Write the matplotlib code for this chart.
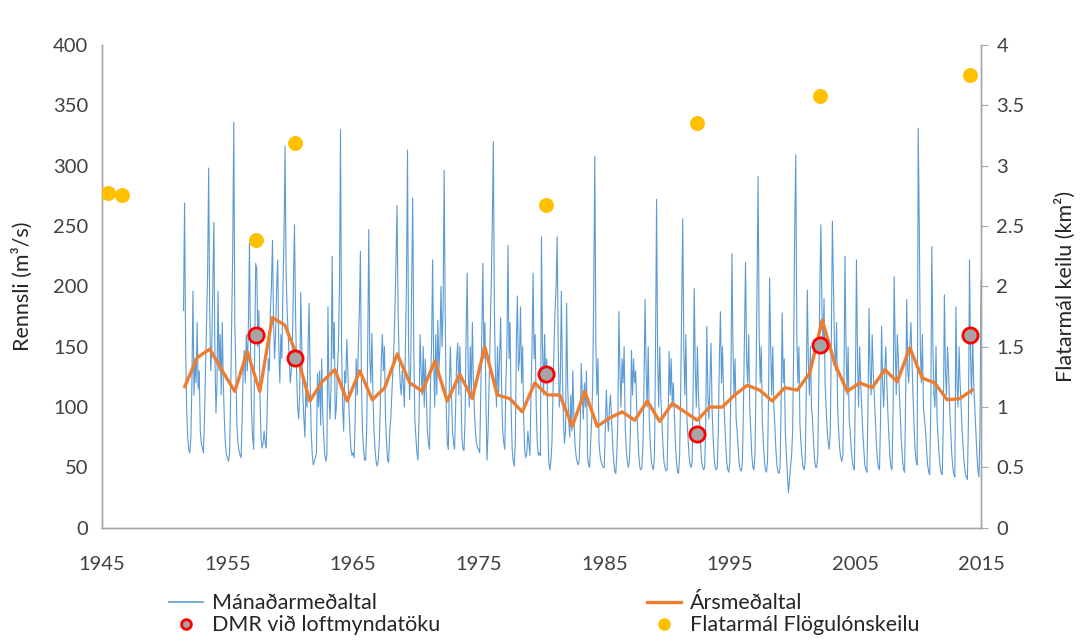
import numpy as np
import matplotlib
matplotlib.use("Agg")
import matplotlib.pyplot as plt
from matplotlib.lines import Line2D

plt.rcParams['font.family'] = ['Lato', 'DejaVu Sans']

# Mánaðarmeðaltal (m3/s), frá júlí 1951, lesið af myndinni
flow_1950s = [180, 269, 150, 98, 75, 64,
              62, 75, 120, 196, 110, 140, 120, 170, 115, 130, 80, 70,
              66, 62, 90, 130, 170, 210, 298, 180, 130, 150, 200, 253,
              140, 95, 120, 196, 130, 160, 110, 170, 120, 90, 70, 60,
              58, 55, 62, 110, 170, 230, 336, 170, 130, 85, 70, 64,
              60, 58, 90, 130, 147, 120, 160, 130, 170, 236, 150, 95,
              75, 65, 150, 219, 214, 150, 180, 110, 75, 66, 70, 80,
              70, 66, 100, 140, 130, 180, 200, 238, 170, 140, 160, 200,
              222, 150, 120, 160, 140, 200, 240, 316, 210, 180, 160, 140]
flow_1960s = [120, 130, 150, 200, 251, 180, 130, 100, 90, 110, 195, 150,
              110, 90, 75, 120, 100, 150, 186, 120, 80, 60, 52, 55,
              58, 62, 128, 100, 130, 85, 140, 95, 75, 60, 55, 60,
              183, 110, 90, 120, 225, 140, 170, 90, 100, 130, 150, 200,
              330, 150, 100, 80, 130, 120, 156, 130, 100, 80, 65, 60,
              62, 58, 90, 140, 110, 150, 180, 229, 120, 80, 65, 56,
              56, 80, 150, 247, 140, 120, 161, 110, 80, 65, 55, 51,
              55, 70, 100, 140, 160, 130, 150, 90, 70, 56, 54, 80,
              90, 110, 130, 150, 180, 220, 267, 180, 140, 120, 110, 130,
              120, 100, 150, 200, 313, 150, 106, 130, 200, 273, 150, 90]
flow_1970s = [75, 62, 56, 90, 160, 130, 110, 150, 100, 140, 110, 80,
              70, 65, 120, 150, 222, 140, 100, 160, 110, 172, 130, 150,
              200, 150, 180, 296, 180, 100, 70, 65, 120, 150, 110, 80,
              70, 65, 100, 140, 153, 110, 150, 120, 75, 65, 64, 90,
              160, 211, 130, 100, 150, 110, 170, 120, 95, 78, 70, 66,
              65, 62, 110, 160, 219, 140, 170, 100, 56, 80, 120, 160,
              200, 250, 320, 180, 130, 100, 150, 110, 140, 174, 110, 80,
              70, 65, 120, 150, 234, 140, 170, 100, 65, 55, 51, 70,
              150, 192, 130, 140, 183, 120, 150, 90, 64, 58, 62, 80,
              70, 60, 110, 150, 211, 140, 160, 100, 70, 60, 62, 60]
flow_1980s = [241, 150, 110, 160, 120, 140, 90, 55, 48, 55, 70, 110,
              150, 180, 200, 241, 150, 100, 120, 196, 130, 90, 70, 80,
              186, 120, 90, 75, 110, 80, 130, 90, 70, 60, 55, 52,
              55, 80, 136, 110, 90, 120, 100, 130, 60, 52, 50, 70,
              90, 120, 200, 308, 150, 110, 140, 70, 60, 55, 52, 50,
              50, 80, 114, 90, 80, 100, 110, 90, 70, 55, 47, 45,
              60, 90, 179, 130, 100, 140, 120, 150, 85, 65, 55, 50,
              55, 80, 147, 110, 140, 120, 130, 100, 80, 60, 50, 48,
              50, 70, 120, 189, 130, 100, 150, 90, 70, 55, 50, 48,
              60, 150, 272, 140, 100, 150, 110, 90, 70, 55, 50, 47]
flow_1990s = [48, 90, 146, 110, 140, 100, 120, 95, 70, 55, 46, 45,
              60, 110, 180, 256, 150, 110, 160, 90, 75, 60, 52, 50,
              55, 120, 198, 130, 100, 150, 110, 90, 70, 55, 50, 48,
              50, 90, 167, 110, 90, 120, 153, 100, 75, 58, 50, 48,
              50, 80, 140, 179, 120, 150, 110, 90, 70, 55, 48, 46,
              55, 120, 227, 150, 110, 140, 90, 80, 65, 52, 48, 47,
              55, 100, 160, 220, 140, 120, 160, 100, 80, 60, 50, 48,
              60, 120, 200, 291, 160, 120, 150, 90, 70, 56, 48, 46,
              55, 110, 207, 150, 110, 150, 100, 85, 65, 52, 46, 45,
              50, 100, 178, 120, 140, 80, 60, 45, 29, 40, 50, 60]
flow_2000s = [80, 150, 250, 309, 160, 120, 150, 85, 70, 58, 50, 48,
              55, 110, 197, 140, 110, 150, 100, 90, 70, 56, 50, 50,
              60, 120, 200, 251, 180, 150, 190, 120, 100, 80, 70, 65,
              80, 160, 254, 200, 150, 130, 170, 100, 80, 65, 58, 55,
              60, 120, 225, 150, 110, 150, 90, 80, 65, 55, 50, 48,
              120, 222, 140, 100, 150, 120, 100, 80, 65, 52, 48, 46,
              100, 182, 130, 110, 160, 130, 110, 90, 70, 56, 50, 48,
              90, 167, 120, 100, 130, 150, 120, 95, 75, 58, 50, 48,
              100, 208, 150, 110, 160, 140, 110, 90, 70, 56, 48, 46,
              110, 189, 130, 120, 150, 170, 140, 110, 85, 65, 55, 52]
flow_2010s = [331, 250, 150, 120, 160, 100, 90, 80, 65, 52, 46, 44,
              100, 233, 150, 110, 100, 150, 90, 75, 60, 50, 45, 44,
              90, 193, 130, 110, 150, 130, 100, 80, 62, 50, 44, 42,
              183, 120, 100, 150, 120, 100, 80, 65, 52, 45, 42, 40,
              90, 222, 140, 110, 160, 120, 100, 80, 62, 48, 42, 80,
              205, 150]

# Ársmeðaltal 1951-2014
annual_years = np.arange(1951, 2015)
annual_flow = [117, 141, 148, 130, 113, 146, 113, 174, 168, 142,
               105, 121, 131, 105, 130, 106, 116, 144, 120, 113,
               138, 105, 127, 107, 150, 110, 107, 96, 120, 110,
               110, 84, 113, 84, 91, 96, 89, 105, 88, 103,
               96, 89, 100, 100, 110, 118, 114, 105, 116, 114,
               128, 172, 136, 113, 120, 116, 131, 121, 149, 124,
               120, 106, 107, 114]

# DMR við loftmyndatöku
dmr_year = [1957.3, 1960.4, 1980.4, 1992.4, 2002.2, 2014.1]
dmr_flow = [160, 141, 127, 78, 151, 160]

# Flatarmál Flögulónskeilu (km2)
area_year = [1945.5, 1946.6, 1957.3, 1960.4, 1980.4, 1992.4, 2002.2, 2014.1]
area_km2 = [2.77, 2.76, 2.38, 3.19, 2.67, 3.35, 3.58, 3.75]

monthly = np.array(flow_1950s + flow_1960s + flow_1970s + flow_1980s
                   + flow_1990s + flow_2000s + flow_2010s, dtype=float)
t_month = 1951.5 + np.arange(len(monthly)) / 12.0
t_annual = np.linspace(1951.6, 2014.3, len(annual_flow))

fig = plt.figure(figsize=(10.84, 6.42), dpi=100)
ax = fig.add_axes([0.094, 0.178, 0.811, 0.752])
ax2 = ax.twinx()

ax.plot(t_month, monthly, color='#5B9BD5', lw=0.8, zorder=2)
ax.plot(t_annual, annual_flow, color='#ED7D31', lw=2.4, zorder=3)
ax.scatter(dmr_year, dmr_flow, s=120, facecolor='#A5A5A5',
           edgecolor='#FF0000', linewidth=2, zorder=4)
ax2.scatter(area_year, area_km2, s=95, color='#FFC000', zorder=5)

ax.set_xlim(1945, 2015)
ax.set_ylim(0, 400)
ax2.set_ylim(0, 4)
ax.set_xticks(np.arange(1945, 2016, 10))
ax.set_yticks(np.arange(0, 401, 50))
ax2.set_yticks(np.arange(0, 4.01, 0.5))
ax2.set_yticklabels(['0', '0.5', '1', '1.5', '2', '2.5', '3', '3.5', '4'])

for a in (ax, ax2):
    a.spines['top'].set_visible(False)
    for s in ('left', 'right', 'bottom'):
        a.spines[s].set_color('#A6A6A6')
        a.spines[s].set_linewidth(1)
ax.tick_params(axis='both', length=0, labelsize=14.5, colors='#404040', pad=10)
ax.tick_params(axis='x', pad=20)
ax2.tick_params(axis='y', length=5, color='#A6A6A6', labelsize=14.5,
                labelcolor='#404040', pad=6)

ax.set_ylabel('Rennsli (m³/s)', fontsize=15.5, color='#262626', labelpad=14)
ax2.set_ylabel('Flatarmál keilu (km²)', fontsize=15.5, color='#262626',
               labelpad=22)

handles = [Line2D([], [], color='#5B9BD5', lw=1.2),
           Line2D([], [], ls='none', marker='o', ms=7, mfc='#A5A5A5',
                  mec='#FF0000', mew=2),
           Line2D([], [], color='#ED7D31', lw=2.4),
           Line2D([], [], ls='none', marker='o', ms=8, color='#FFC000')]
labels = ['Mánaðarmeðaltal', 'DMR við loftmyndatöku', 'Ársmeðaltal',
          'Flatarmál Flögulónskeilu']
fig.legend(handles, labels, loc='upper left', bbox_to_anchor=(0.138, 0.106),
           ncol=2, frameon=False, fontsize=15.5, handlelength=1.6,
           handletextpad=0.4, columnspacing=9.6, labelspacing=0.1,
           labelcolor='#262626')

fig.savefig('out.png', dpi=100)
